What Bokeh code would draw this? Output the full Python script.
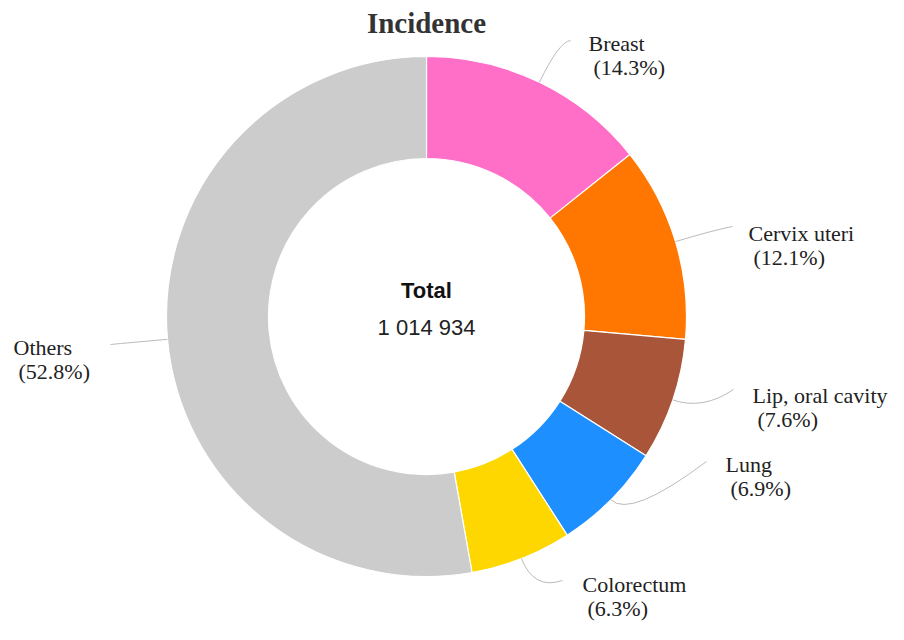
import math
from bokeh.plotting import figure
from bokeh.models import Range1d, ColumnDataSource
from bokeh.core.properties import value
from bokeh.embed import file_html
from bokeh.resources import INLINE

# ---- data ----
categories = ["Breast", "Cervix uteri", "Lip, oral cavity", "Lung", "Colorectum", "Others"]
percent = [14.3, 12.1, 7.6, 6.9, 6.3, 52.8]
colors = ["#FF6EC7", "#FF7700", "#A9553A", "#1E8FFF", "#FFD700", "#CCCCCC"]
total_label = "1 014 934"
title_text = "Incidence"

# ---- layout (reference-pixel coordinates, y measured from bottom) ----
W, H = 888, 624
TOP = 4  # reference pixel row shown at top of figure
CX, CY = 426, 640 - 320
R_OUT, R_IN = 260, 158

def Y(py):
    return 640 - py

p = figure(width=W, height=H, output_backend="svg", toolbar_location=None,
           x_range=Range1d(0, W), y_range=Range1d(640 - TOP - H, 640 - TOP),
           min_border=0, outline_line_color=None)
p.axis.visible = False
p.grid.visible = False
p.background_fill_color = "white"
p.border_fill_color = "white"

tot = sum(percent)
starts, ends, mids = [], [], []
acc = 0.0
for v in percent:
    a0 = math.pi / 2 - 2 * math.pi * acc / tot
    acc += v
    a1 = math.pi / 2 - 2 * math.pi * acc / tot
    starts.append(a0)
    ends.append(a1)
    mids.append((a0 + a1) / 2)

src = ColumnDataSource(dict(start=starts, end=ends, color=colors, cat=categories))
p.annular_wedge(x=CX, y=CY, inner_radius=R_IN, outer_radius=R_OUT,
                start_angle="start", end_angle="end", direction="clock",
                fill_color="color", line_color="white", line_width=1.2, source=src)

# leader lines: start at outer edge on slice mid-angle, bend toward label
r_ext = [305, 300, 292, 287, 294, 300]
end_pts = [(570, 44), (732, 230), (733, 393), (706, 465), (562, 584), (110, 348)]
x0, y0, x1, y1, cxs, cys = [], [], [], [], [], []
for m, re, (ex, ey) in zip(mids, r_ext, end_pts):
    x0.append(CX + R_OUT * math.cos(m))
    y0.append(CY + R_OUT * math.sin(m))
    cxs.append(CX + re * math.cos(m))
    cys.append(CY + re * math.sin(m))
    x1.append(ex)
    y1.append(Y(ey))
p.quadratic(x0=x0, y0=y0, x1=x1, y1=y1, cx=cxs, cy=cys, line_color="#BBBBBB", line_width=1)

# labels
lab_pos = [(588, 47), (748, 237), (752, 399), (725, 468), (582, 588), (13, 351)]
lx, ly, lt = [], [], []
for cat, v, (tx, ty) in zip(categories, percent, lab_pos):
    lx.append(tx); ly.append(Y(ty)); lt.append(cat)
    lx.append(tx + 5); ly.append(Y(ty + 24)); lt.append("(%.1f%%)" % v)
p.text(x=lx, y=ly, text=lt, text_font=value("Liberation Serif"), text_font_size="22px",
       text_color="#222222", text_align="left", text_baseline="middle")

# title
p.text(x=[CX], y=[Y(26)], text=[title_text], text_font=value("Liberation Serif"),
       text_font_size="29px", text_font_style="bold", text_color="#333333",
       text_align="center", text_baseline="middle")

# center text
p.text(x=[CX], y=[Y(294)], text=["Total"], text_font=value("Liberation Sans"),
       text_font_size="22px", text_font_style="bold", text_color="#111111",
       text_align="center", text_baseline="middle")
p.text(x=[CX], y=[Y(331)], text=[total_label], text_font=value("Liberation Sans"),
       text_font_size="22px", text_color="#222222",
       text_align="center", text_baseline="middle")

open("out.html", "w").write(file_html(p, INLINE))
